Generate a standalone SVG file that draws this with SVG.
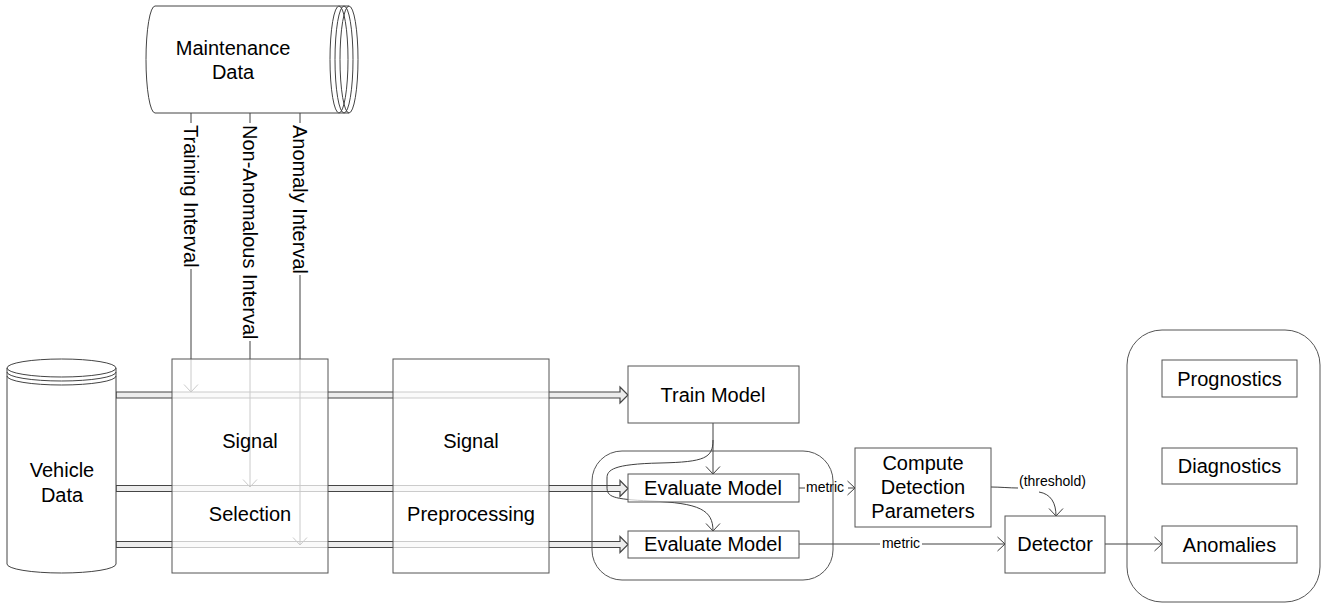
<svg xmlns="http://www.w3.org/2000/svg" width="1323" height="607" viewBox="0 0 1323 607">
<defs>
<style>
text{font-family:"Liberation Sans",Arial,sans-serif;fill:#000;}
.t{font-size:20px;text-anchor:middle;}
.s{font-size:14px;}
.box{fill:#fff;fill-opacity:0.72;stroke:#555;stroke-width:1;}
.cont{fill:none;stroke:#555;stroke-width:1;}
.ln{fill:none;stroke:#404040;stroke-width:1;}
.fat{fill:#ececec;stroke:#454545;stroke-width:1.2;}
.cyl{fill:#fff;stroke:#444;stroke-width:1;}
</style>
<marker id="ah" markerUnits="userSpaceOnUse" markerWidth="10" markerHeight="16" refX="7.5" refY="7" orient="auto" viewBox="-1 -1 10 16">
<path d="M0,0 L7.5,7 L0,14" fill="none" stroke="#404040" stroke-width="1"/>
</marker>
</defs>

<g id="connectors">
<polygon class="fat" points="116,392 620,392 620,387 628,395 620,403 620,398 116,398"/>
<polygon class="fat" points="116,485.5 620,485.5 620,480.5 628,488.5 620,496.5 620,491.5 116,491.5"/>
<polygon class="fat" points="116,541.5 620,541.5 620,536.5 628,544.5 620,552.5 620,547.5 116,547.5"/>

<path class="ln" d="M191,113 L191,123"/>
<path class="ln" d="M191,269 L191,392" marker-end="url(#ah)"/>
<text class="s" style="font-size:20px" transform="translate(191,125) rotate(90)" x="0" y="7">Training Interval</text>
<path class="ln" d="M250,113 L250,123"/>
<path class="ln" d="M250,341 L250,487" marker-end="url(#ah)"/>
<text style="font-size:20px" transform="translate(250,125) rotate(90)" x="0" y="7">Non-Anomalous Interval</text>
<path class="ln" d="M300,113 L300,123"/>
<path class="ln" d="M300,275 L300,545" marker-end="url(#ah)"/>
<text style="font-size:20px" transform="translate(300,125) rotate(90)" x="0" y="7">Anomaly Interval</text>

<path class="ln" d="M713,423 L713,474" marker-end="url(#ah)"/>
<path class="ln" d="M713,440 C713,458 705,462 660,463 C613,464 607,470 607,478 L607,487 C607,497 612,499 650,501 C700,503 713,510 713,531" marker-end="url(#ah)"/>

<path class="ln" d="M799,488 L805,488"/>
<text class="s" x="806" y="492">metric</text>
<path class="ln" d="M848,488 L855,488" marker-end="url(#ah)"/>

<path class="ln" d="M799,544 L880,544"/>
<text class="s" x="901" y="548" text-anchor="middle">metric</text>
<path class="ln" d="M922,544 L1005,544" marker-end="url(#ah)"/>

<path class="ln" d="M991,487 C1000,487 1010,488 1018,488"/>
<text class="s" x="1019" y="486">(threshold)</text>
<path class="ln" d="M1039,492 C1051,494 1056,503 1056,516" marker-end="url(#ah)"/>

<path class="ln" d="M1105,544 L1162,544" marker-end="url(#ah)"/>
</g>

<g id="maintenance-data">
<path class="cyl" d="M155,6 L339,6 L339,113 L155,113 A9,53.5 0 0 1 155,6 Z"/>
<ellipse cx="339" cy="59.5" rx="9" ry="53.5" fill="#fff" stroke="#444"/>
<path d="M344,6 A9,53.5 0 0 1 344,113" fill="none" stroke="#444"/>
<path d="M349,6 A9,53.5 0 0 1 349,113" fill="none" stroke="#444"/>
<path d="M344,6 A9,53.5 0 0 0 344,113" fill="none" stroke="#444"/>
<path d="M349,6 A9,53.5 0 0 0 349,113" fill="none" stroke="#444"/>
<path d="M339,6 L349,6 M339,113 L349,113" fill="none" stroke="#444"/>
<text class="t" x="233" y="55">Maintenance</text>
<text class="t" x="233" y="79">Data</text>
</g>

<g id="vehicle-data">
<path class="cyl" d="M7,368 A54.5,9 0 0 1 116,368 L116,564 A54.5,9 0 0 1 7,564 Z"/>
<path d="M7,368 A54.5,9 0 0 0 116,368" fill="none" stroke="#444"/>
<path d="M7,372 A54.5,9 0 0 0 116,372" fill="none" stroke="#444"/>
<path d="M7,376 A54.5,9 0 0 0 116,376" fill="none" stroke="#444"/>
<text class="t" x="62" y="477">Vehicle</text>
<text class="t" x="62" y="502">Data</text>
</g>

<g id="signal-selection">
<rect class="box" x="172" y="359" width="156" height="214"/>
<text class="t" x="250" y="448">Signal</text>
<text class="t" x="250" y="521">Selection</text>
</g>

<g id="signal-preprocessing">
<rect class="box" x="393" y="359" width="156" height="214"/>
<text class="t" x="471" y="448">Signal</text>
<text class="t" x="471" y="521">Preprocessing</text>
</g>

<g id="train-model">
<rect class="box" x="628" y="366" width="171" height="57"/>
<text class="t" x="713" y="402">Train Model</text>
</g>

<g id="evaluation-group">
<rect class="cont" x="592" y="451" width="241" height="129" rx="30" ry="30"/>
</g>

<g id="evaluate-model-1">
<rect class="box" x="628" y="474" width="171" height="28"/>
<text class="t" x="713" y="495">Evaluate Model</text>
</g>

<g id="evaluate-model-2">
<rect class="box" x="628" y="531" width="171" height="27"/>
<text class="t" x="713" y="551">Evaluate Model</text>
</g>

<g id="compute-detection-parameters">
<rect class="box" x="855" y="448" width="136" height="79"/>
<text class="t" x="923" y="470">Compute</text>
<text class="t" x="923" y="494">Detection</text>
<text class="t" x="923" y="518">Parameters</text>
</g>

<g id="detector">
<rect class="box" x="1005" y="516" width="100" height="57"/>
<text class="t" x="1055" y="551">Detector</text>
</g>

<g id="outputs-group">
<rect class="cont" x="1127" y="330" width="193" height="272" rx="35" ry="35"/>
</g>

<g id="prognostics">
<rect class="box" x="1162" y="360" width="135" height="37"/>
<text class="t" x="1229.5" y="386">Prognostics</text>
</g>

<g id="diagnostics">
<rect class="box" x="1162" y="448" width="135" height="36"/>
<text class="t" x="1229.5" y="473">Diagnostics</text>
</g>

<g id="anomalies">
<rect class="box" x="1162" y="526" width="135" height="37"/>
<text class="t" x="1229.5" y="552">Anomalies</text>
</g>
</svg>
